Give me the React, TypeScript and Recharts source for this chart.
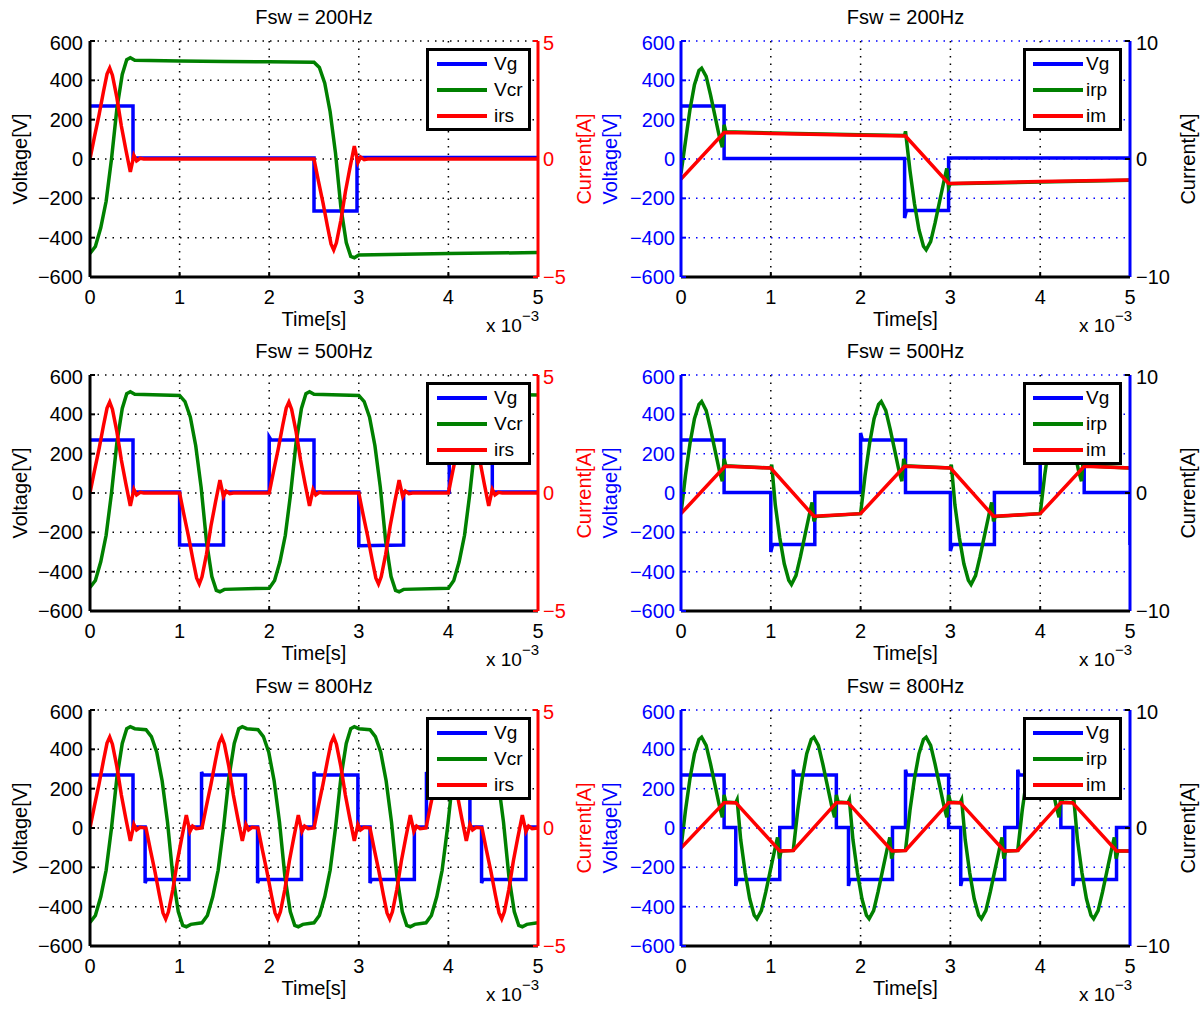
import React from 'react';
import { LineChart, Line, XAxis, YAxis, CartesianGrid, Legend } from 'recharts';

type Pt = [number, number];

// time axis is in ms (x 10^-3 s)
const timeTicks = [0, 1, 2, 3, 4, 5];
const voltTicks = [-600, -400, -200, 0, 200, 400, 600];
const ampTicksL = [-5, 0, 5];
const ampTicksR = [-10, 0, 10];

// ---- Fsw = 200Hz ----
const vg200L: Pt[] = [[0, 270], [0.48, 270], [0.48, 5], [2.5, 5], [2.5, -265], [2.98, -265], [2.98, 8], [5, 8]];
const vcr200: Pt[] = [
  [0, -480], [0.06, -445], [0.12, -350], [0.18, -215], [0.24, 0], [0.3, 255], [0.36, 430], [0.41, 505], [0.45, 515], [0.5, 502],
  [1, 498], [1.5, 496], [2, 494], [2.5, 492], [2.56, 465], [2.62, 385], [2.68, 240], [2.74, 30], [2.8, -245], [2.86, -425],
  [2.91, -495], [2.95, -502], [3, -488], [4, -480], [5, -476],
];
const irs200: Pt[] = [
  [0, 0], [0.05, 0.95], [0.1, 1.85], [0.15, 2.85], [0.19, 3.6], [0.22, 3.85], [0.25, 3.55], [0.3, 2.6], [0.35, 1.4], [0.4, 0.4],
  [0.45, -0.55], [0.47, -0.2], [0.49, 0.15], [0.52, -0.08], [0.56, 0.03], [0.6, 0], [2.5, 0],
  [2.55, -0.95], [2.6, -1.85], [2.65, -2.85], [2.69, -3.6], [2.72, -3.85], [2.75, -3.55], [2.8, -2.6], [2.85, -1.4], [2.9, -0.4],
  [2.95, 0.55], [2.97, 0.2], [2.99, -0.15], [3.02, 0.08], [3.06, -0.03], [3.1, 0], [5, 0],
];
const vg200R: Pt[] = [[0, 270], [0.48, 270], [0.48, 3], [2.49, 3], [2.49, -300], [2.51, -262], [2.98, -262], [2.98, 5], [5, 5]];
const irp200: Pt[] = [
  [0, -1.2], [0.05, 1.5], [0.1, 4.2], [0.15, 6.3], [0.2, 7.5], [0.23, 7.7], [0.28, 7.0], [0.33, 5.4], [0.38, 3.6], [0.43, 1.8],
  [0.46, 1.0], [0.48, 2.9], [0.5, 2.3], [1, 2.2], [2, 2.05], [2.49, 2.0], [2.5, 2.35], [2.55, -1.0], [2.6, -3.8], [2.65, -6.0],
  [2.7, -7.4], [2.73, -7.7], [2.78, -7.0], [2.83, -5.4], [2.88, -3.6], [2.93, -1.8], [2.96, -0.8], [2.98, -2.4], [3, -2.1],
  [4, -1.95], [5, -1.8],
];
const im200: Pt[] = [[0, -1.7], [0.48, 2.25], [1, 2.17], [2, 2.02], [2.5, 1.95], [2.98, -2.07], [4, -1.9], [5, -1.78]];

// ---- Fsw = 500Hz ----
const vg500L: Pt[] = [
  [0, 270], [0.48, 270], [0.48, 5], [1, 5], [1, -265], [1.49, -265], [1.49, 5], [2, 5], [2, 285], [2.02, 270], [2.5, 270],
  [2.5, 5], [3, 5], [3, -268], [3.5, -265], [3.5, 5], [4.01, 5], [4.01, 280], [4.03, 270], [4.49, 270], [4.49, 5], [5, 5],
];
const vcr500: Pt[] = [
  [0, -480], [0.06, -445], [0.12, -350], [0.18, -215], [0.24, 0], [0.3, 255], [0.36, 430], [0.41, 505], [0.45, 515], [0.5, 502], [1, 496],
  [1.06, 465], [1.12, 385], [1.18, 240], [1.24, 30], [1.3, -245], [1.36, -425], [1.41, -495], [1.45, -502], [1.5, -490], [2, -484],
  [2.06, -445], [2.12, -350], [2.18, -215], [2.24, 0], [2.3, 255], [2.36, 430], [2.41, 505], [2.45, 515], [2.5, 502], [3, 496],
  [3.06, 465], [3.12, 385], [3.18, 240], [3.24, 30], [3.3, -245], [3.36, -425], [3.41, -495], [3.45, -502], [3.5, -490], [4, -484],
  [4.06, -445], [4.12, -350], [4.18, -215], [4.24, 0], [4.3, 255], [4.36, 430], [4.41, 505], [4.45, 515], [4.5, 502], [5, 498],
];
const irs500: Pt[] = [
  [0, 0], [0.05, 0.95], [0.1, 1.85], [0.15, 2.85], [0.19, 3.6], [0.22, 3.85], [0.25, 3.55], [0.3, 2.6], [0.35, 1.4], [0.4, 0.4],
  [0.45, -0.55], [0.47, -0.2], [0.49, 0.15], [0.52, -0.08], [0.56, 0.03], [0.6, 0], [1, 0],
  [1.05, -0.95], [1.1, -1.85], [1.15, -2.85], [1.19, -3.6], [1.22, -3.85], [1.25, -3.55], [1.3, -2.6], [1.35, -1.4], [1.4, -0.4],
  [1.45, 0.55], [1.47, 0.2], [1.49, -0.15], [1.52, 0.08], [1.56, -0.03], [1.6, 0], [2, 0],
  [2.05, 0.95], [2.1, 1.85], [2.15, 2.85], [2.19, 3.6], [2.22, 3.85], [2.25, 3.55], [2.3, 2.6], [2.35, 1.4], [2.4, 0.4],
  [2.45, -0.55], [2.47, -0.2], [2.49, 0.15], [2.52, -0.08], [2.56, 0.03], [2.6, 0], [3, 0],
  [3.05, -0.95], [3.1, -1.85], [3.15, -2.85], [3.19, -3.6], [3.22, -3.85], [3.25, -3.55], [3.3, -2.6], [3.35, -1.4], [3.4, -0.4],
  [3.45, 0.55], [3.47, 0.2], [3.49, -0.15], [3.52, 0.08], [3.56, -0.03], [3.6, 0], [4, 0],
  [4.05, 0.95], [4.1, 1.85], [4.15, 2.85], [4.19, 3.6], [4.22, 3.85], [4.25, 3.55], [4.3, 2.6], [4.35, 1.4], [4.4, 0.4],
  [4.45, -0.55], [4.47, -0.2], [4.49, 0.15], [4.52, -0.08], [4.56, 0.03], [4.6, 0], [5, 0],
];
const vg500R: Pt[] = [
  [0, 270], [0.48, 270], [0.48, 3], [1, 3], [1, -300], [1.02, -262], [1.49, -262], [1.49, 3], [2, 3], [2, 305], [2.02, 270],
  [2.5, 270], [2.5, 3], [3, 3], [3, -295], [3.02, -262], [3.49, -262], [3.49, 3], [4, 3], [4, 300], [4.02, 270], [4.49, 270],
  [4.49, 3], [5, 3], [5, -265],
];
const irp500: Pt[] = [
  [0, -1.75], [0.05, 1.5], [0.1, 4.2], [0.15, 6.3], [0.2, 7.5], [0.23, 7.75], [0.28, 7.0], [0.33, 5.4], [0.38, 3.6], [0.43, 1.8],
  [0.46, 1.0], [0.48, 2.9], [0.5, 2.3], [1, 2.12],
  [1.01, 2.4], [1.05, -1.0], [1.1, -3.8], [1.15, -6.0], [1.2, -7.4], [1.23, -7.75], [1.28, -7.0], [1.33, -5.4], [1.38, -3.6],
  [1.43, -1.8], [1.46, -0.8], [1.48, -2.4], [1.5, -2.0], [2, -1.75],
  [2.05, 1.5], [2.1, 4.2], [2.15, 6.3], [2.2, 7.5], [2.23, 7.75], [2.28, 7.0], [2.33, 5.4], [2.38, 3.6], [2.43, 1.8],
  [2.46, 1.0], [2.48, 2.9], [2.5, 2.3], [3, 2.12],
  [3.01, 2.4], [3.05, -1.0], [3.1, -3.8], [3.15, -6.0], [3.2, -7.4], [3.23, -7.75], [3.28, -7.0], [3.33, -5.4], [3.38, -3.6],
  [3.43, -1.8], [3.46, -0.8], [3.48, -2.4], [3.5, -2.0], [4, -1.75],
  [4.05, 1.5], [4.1, 4.2], [4.15, 6.3], [4.2, 7.5], [4.23, 7.75], [4.28, 7.0], [4.33, 5.4], [4.38, 3.6], [4.43, 1.8],
  [4.46, 1.0], [4.48, 2.9], [4.5, 2.3], [5, 2.12],
];
const im500: Pt[] = [
  [0, -1.75], [0.49, 2.27], [1, 2.12], [1.48, -1.97], [2, -1.75], [2.49, 2.27], [3, 2.12], [3.48, -1.97], [4, -1.75],
  [4.49, 2.27], [5, 2.12],
];

// ---- Fsw = 800Hz ----
const vg800L: Pt[] = [
  [0, 270], [0.48, 270], [0.48, 5], [0.615, 5], [0.615, -280], [0.63, -262], [1.105, -262], [1.105, 5], [1.245, 5], [1.245, 285],
  [1.26, 270], [1.735, 270], [1.735, 5], [1.87, 5], [1.87, -280], [1.885, -262], [2.36, -262], [2.36, 5], [2.5, 5], [2.5, 285],
  [2.515, 270], [2.99, 270], [2.99, 5], [3.125, 5], [3.125, -280], [3.14, -262], [3.62, -262], [3.62, 5], [3.755, 5], [3.755, 285],
  [3.77, 270], [4.24, 270], [4.24, 5], [4.37, 5], [4.37, -280], [4.385, -262], [4.865, -262], [4.865, 5], [5, 5],
];
const vcr800: Pt[] = [
  [0, -480], [0.06, -445], [0.12, -350], [0.18, -215], [0.24, 0], [0.3, 255], [0.36, 430], [0.41, 505], [0.45, 515], [0.5, 505], [0.625, 500],
  [0.685, 465], [0.745, 385], [0.805, 240], [0.865, 30], [0.925, -245], [0.985, -425], [1.035, -495], [1.075, -502], [1.125, -490], [1.25, -482],
  [1.31, -445], [1.37, -350], [1.43, -215], [1.49, 0], [1.55, 255], [1.61, 430], [1.66, 505], [1.7, 515], [1.75, 505], [1.875, 500],
  [1.935, 465], [1.995, 385], [2.055, 240], [2.115, 30], [2.175, -245], [2.235, -425], [2.285, -495], [2.325, -502], [2.375, -490], [2.5, -482],
  [2.56, -445], [2.62, -350], [2.68, -215], [2.74, 0], [2.8, 255], [2.86, 430], [2.91, 505], [2.95, 515], [3.0, 505], [3.125, 500],
  [3.185, 465], [3.245, 385], [3.305, 240], [3.365, 30], [3.425, -245], [3.485, -425], [3.535, -495], [3.575, -502], [3.625, -490], [3.75, -482],
  [3.81, -445], [3.87, -350], [3.93, -215], [3.99, 0], [4.05, 255], [4.11, 430], [4.16, 505], [4.2, 515], [4.25, 505], [4.375, 500],
  [4.435, 465], [4.495, 385], [4.555, 240], [4.615, 30], [4.675, -245], [4.735, -425], [4.785, -495], [4.825, -502], [4.875, -490], [5, -482],
];
const irs800: Pt[] = [
  [0, 0], [0.05, 0.95], [0.1, 1.85], [0.15, 2.85], [0.19, 3.6], [0.22, 3.85], [0.25, 3.55], [0.3, 2.6], [0.35, 1.4], [0.4, 0.4],
  [0.45, -0.55], [0.47, -0.2], [0.49, 0.15], [0.52, -0.08], [0.56, 0.03], [0.625, 0],
  [0.675, -0.95], [0.725, -1.85], [0.775, -2.85], [0.815, -3.6], [0.845, -3.85], [0.875, -3.55], [0.925, -2.6], [0.975, -1.4],
  [1.025, -0.4], [1.075, 0.55], [1.095, 0.2], [1.115, -0.15], [1.145, 0.08], [1.185, -0.03], [1.25, 0],
  [1.3, 0.95], [1.35, 1.85], [1.4, 2.85], [1.44, 3.6], [1.47, 3.85], [1.5, 3.55], [1.55, 2.6], [1.6, 1.4], [1.65, 0.4],
  [1.7, -0.55], [1.72, -0.2], [1.74, 0.15], [1.77, -0.08], [1.81, 0.03], [1.875, 0],
  [1.925, -0.95], [1.975, -1.85], [2.025, -2.85], [2.065, -3.6], [2.095, -3.85], [2.125, -3.55], [2.175, -2.6], [2.225, -1.4],
  [2.275, -0.4], [2.325, 0.55], [2.345, 0.2], [2.365, -0.15], [2.395, 0.08], [2.435, -0.03], [2.5, 0],
  [2.55, 0.95], [2.6, 1.85], [2.65, 2.85], [2.69, 3.6], [2.72, 3.85], [2.75, 3.55], [2.8, 2.6], [2.85, 1.4], [2.9, 0.4],
  [2.95, -0.55], [2.97, -0.2], [2.99, 0.15], [3.02, -0.08], [3.06, 0.03], [3.125, 0],
  [3.175, -0.95], [3.225, -1.85], [3.275, -2.85], [3.315, -3.6], [3.345, -3.85], [3.375, -3.55], [3.425, -2.6], [3.475, -1.4],
  [3.525, -0.4], [3.575, 0.55], [3.595, 0.2], [3.615, -0.15], [3.645, 0.08], [3.685, -0.03], [3.75, 0],
  [3.8, 0.95], [3.85, 1.85], [3.9, 2.85], [3.94, 3.6], [3.97, 3.85], [4.0, 3.55], [4.05, 2.6], [4.1, 1.4], [4.15, 0.4],
  [4.2, -0.55], [4.22, -0.2], [4.24, 0.15], [4.27, -0.08], [4.31, 0.03], [4.375, 0],
  [4.425, -0.95], [4.475, -1.85], [4.525, -2.85], [4.565, -3.6], [4.595, -3.85], [4.625, -3.55], [4.675, -2.6], [4.725, -1.4],
  [4.775, -0.4], [4.825, 0.55], [4.845, 0.2], [4.865, -0.15], [4.895, 0.08], [4.935, -0.03], [5, 0],
];
const vg800R: Pt[] = [
  [0, 270], [0.48, 270], [0.48, 3], [0.61, 3], [0.61, -295], [0.625, -262], [1.1, -262], [1.1, 3], [1.25, 3], [1.25, 296],
  [1.265, 270], [1.73, 270], [1.73, 3], [1.865, 3], [1.865, -295], [1.88, -262], [2.355, -262], [2.355, 3], [2.5, 3], [2.5, 296],
  [2.515, 270], [2.98, 270], [2.98, 3], [3.115, 3], [3.115, -295], [3.13, -262], [3.605, -262], [3.605, 3], [3.75, 3], [3.75, 296],
  [3.765, 270], [4.23, 270], [4.23, 3], [4.365, 3], [4.365, -295], [4.38, -262], [4.85, -262], [4.85, 3], [5, 3],
];
const irp800: Pt[] = [
  [0, -1.7], [0.05, 1.5], [0.1, 4.2], [0.15, 6.3], [0.2, 7.5], [0.23, 7.7], [0.28, 7.0], [0.33, 5.4], [0.38, 3.6], [0.43, 1.8],
  [0.46, 0.9], [0.48, 2.8], [0.5, 2.2], [0.61, 2.15],
  [0.625, 2.4], [0.665, -1.0], [0.715, -3.8], [0.765, -6.0], [0.815, -7.4], [0.845, -7.7], [0.895, -7.0], [0.945, -5.4],
  [0.995, -3.6], [1.045, -1.8], [1.075, -0.8], [1.095, -2.6], [1.115, -1.95], [1.25, -1.9],
  [1.3, 1.5], [1.35, 4.2], [1.4, 6.3], [1.45, 7.5], [1.48, 7.7], [1.53, 7.0], [1.58, 5.4], [1.63, 3.6], [1.68, 1.8],
  [1.71, 0.9], [1.73, 2.8], [1.75, 2.2], [1.86, 2.15],
  [1.875, 2.4], [1.915, -1.0], [1.965, -3.8], [2.015, -6.0], [2.065, -7.4], [2.095, -7.7], [2.145, -7.0], [2.195, -5.4],
  [2.245, -3.6], [2.295, -1.8], [2.325, -0.8], [2.345, -2.6], [2.365, -1.95], [2.5, -1.9],
  [2.55, 1.5], [2.6, 4.2], [2.65, 6.3], [2.7, 7.5], [2.73, 7.7], [2.78, 7.0], [2.83, 5.4], [2.88, 3.6], [2.93, 1.8],
  [2.96, 0.9], [2.98, 2.8], [3.0, 2.2], [3.11, 2.15],
  [3.125, 2.4], [3.165, -1.0], [3.215, -3.8], [3.265, -6.0], [3.315, -7.4], [3.345, -7.7], [3.395, -7.0], [3.445, -5.4],
  [3.495, -3.6], [3.545, -1.8], [3.575, -0.8], [3.595, -2.6], [3.615, -1.95], [3.75, -1.9],
  [3.8, 1.5], [3.85, 4.2], [3.9, 6.3], [3.95, 7.5], [3.98, 7.7], [4.03, 7.0], [4.08, 5.4], [4.13, 3.6], [4.18, 1.8],
  [4.21, 0.9], [4.23, 2.8], [4.25, 2.2], [4.36, 2.15],
  [4.375, 2.4], [4.415, -1.0], [4.465, -3.8], [4.515, -6.0], [4.565, -7.4], [4.595, -7.7], [4.645, -7.0], [4.695, -5.4],
  [4.745, -3.6], [4.795, -1.8], [4.825, -0.8], [4.845, -2.6], [4.865, -1.95], [5, -1.95],
];
const im800: Pt[] = [
  [0, -1.7], [0.48, 2.15], [0.61, 2.15], [1.1, -1.95], [1.25, -1.9], [1.73, 2.15], [1.86, 2.15], [2.35, -1.95], [2.5, -1.9],
  [2.98, 2.15], [3.11, 2.15], [3.6, -1.95], [3.75, -1.9], [4.23, 2.15], [4.36, 2.15], [4.85, -1.95], [5, -1.95],
];

const BLUE = '#0000ff';
const GREEN = '#008000';
const RED = '#ff0000';
const BLACK = '#000000';
const FONT = '"Liberation Sans", Arial, Helvetica, sans-serif';
const PLOT_H = 236;
const CHART_H = 306;

type Side = 'left' | 'right';
interface Series { name: string; color: string; axis: 'v' | 'i'; data: Pt[] }

const SIDES = {
  left: {
    chartLeft: 0, chartWidth: 600, leftW: 90, rightW: 62,
    vText: BLACK, vLine: BLACK, vTickMargin: 12, iText: RED, iLine: RED, iTickMargin: 10,
    hGrid: BLACK, boxTick: BLACK, iTicks: ampTicksL, iMax: 5,
    vTitleX: 20, iTitleX: 584, legendLeft: 426, legendWidth: 105, legendPad: 8, legendGap: 7, expRight: 539,
  },
  right: {
    chartLeft: 590, chartWidth: 613, leftW: 91, rightW: 73,
    vText: BLUE, vLine: BLUE, vTickMargin: 11, iText: BLACK, iLine: BLUE, iTickMargin: 11,
    hGrid: BLUE, boxTick: BLUE, iTicks: ampTicksR, iMax: 10,
    vTitleX: 20, iTitleX: 598, legendLeft: 433, legendWidth: 99, legendPad: 7, legendGap: 3, expRight: 542,
  },
};

const toRows = (pts: Pt[]) => pts.map(([t, v]) => ({ t, v }));
// MATLAB prints a real minus sign
const fmtTick = (v: number) => (v < 0 ? `\u2212${Math.abs(v)}` : `${v}`);

const LegendBox = ({ payload, boxWidth, pad, gap, order }: any) => {
  const items = [...(payload || [])].sort((a: any, b: any) => order.indexOf(a.value) - order.indexOf(b.value));
  return (
    <div style={{ width: boxWidth, height: 83, boxSizing: 'border-box', border: '3px solid #000', background: '#fff', fontFamily: FONT }}>
      {items.map((p: any) => (
        <div key={p.value} style={{ display: 'flex', alignItems: 'center', height: 26 }}>
          <div style={{ width: 50, height: 3.5, background: p.color, marginLeft: pad }} />
          <span style={{ marginLeft: gap, fontSize: 19, color: '#000', lineHeight: '26px' }}>{p.value}</span>
        </div>
      ))}
    </div>
  );
};

const RotTitle = ({ x, y, text, color }: { x: number; y: number; text: string; color: string }) => (
  <div style={{ position: 'absolute', left: x, top: y, transform: 'translate(-50%, -50%) rotate(-90deg)', whiteSpace: 'nowrap', fontSize: 20, lineHeight: '22px', color }}>
    {text}
  </div>
);

const Panel = ({ title, top, side, series }: { title: string; top: number; side: Side; series: Series[] }) => {
  const s = SIDES[side];
  const plotLeft = s.leftW;
  const plotRight = s.chartWidth - s.rightW;
  const plotMid = (plotLeft + plotRight) / 2;
  const midY = 10 + PLOT_H / 2;
  const order = series.map((sr) => sr.name);
  return (
    <div style={{ position: 'absolute', left: s.chartLeft, top: top - 10, width: s.chartWidth, height: CHART_H }}>
      <LineChart width={s.chartWidth} height={CHART_H} margin={{ top: 10, right: 0, bottom: 0, left: 0 }}>
        <CartesianGrid xAxisId="b" yAxisId="v" horizontal={false} stroke={BLACK} strokeDasharray="1.5 6" strokeWidth={1.5} />
        <CartesianGrid xAxisId="b" yAxisId="v" vertical={false} stroke={s.hGrid} strokeDasharray="1.5 6" strokeWidth={1.5} />
        <XAxis
          xAxisId="b" dataKey="t" type="number" domain={[0, 5]} ticks={timeTicks} allowDataOverflow height={60}
          stroke={BLACK} axisLine={{ stroke: BLACK, strokeWidth: 3 }} tickLine={{ stroke: BLACK, strokeWidth: 2 }}
          tickSize={-5} tickMargin={18} tick={{ fill: BLACK, fontSize: 20 }}
        />
        <XAxis
          xAxisId="top" orientation="top" dataKey="t" type="number" domain={[0, 5]} ticks={timeTicks} allowDataOverflow height={0}
          axisLine={{ stroke: BLACK, strokeWidth: 3 }} tickLine={{ stroke: BLACK, strokeWidth: 2 }} tickSize={-5}
          tickFormatter={() => ''}
        />
        <YAxis
          yAxisId="v" type="number" domain={[-600, 600]} ticks={voltTicks} allowDataOverflow width={s.leftW}
          axisLine={{ stroke: s.vLine, strokeWidth: 3 }} tickLine={{ stroke: s.vLine, strokeWidth: 2 }}
          tickSize={-5} tickMargin={s.vTickMargin} tick={{ fill: s.vText, fontSize: 20 }} tickFormatter={fmtTick}
        />
        <YAxis
          yAxisId="i" orientation="right" type="number" domain={[-s.iMax, s.iMax]} ticks={s.iTicks} allowDataOverflow width={s.rightW}
          axisLine={{ stroke: s.iLine, strokeWidth: 3 }} tickLine={{ stroke: side === 'left' ? RED : BLACK, strokeWidth: 2 }}
          tickSize={-5} tickMargin={s.iTickMargin} tick={{ fill: s.iText, fontSize: 20, textAnchor: 'start' }} tickFormatter={fmtTick}
        />
        <YAxis
          yAxisId="vr" orientation="right" mirror type="number" domain={[-600, 600]} ticks={voltTicks} allowDataOverflow width={0}
          axisLine={false} tickLine={{ stroke: s.boxTick, strokeWidth: 2 }} tickSize={5} tickFormatter={() => ''}
        />
        {series.map((sr) => (
          <Line
            key={sr.name} xAxisId="b" yAxisId={sr.axis} data={toRows(sr.data)} dataKey="v" name={sr.name}
            type="linear" stroke={sr.color} strokeWidth={3.5} dot={false} activeDot={false} isAnimationActive={false}
          />
        ))}
        <Legend
          layout="vertical" align="center" verticalAlign="middle"
          wrapperStyle={{ left: s.legendLeft, top: 17, width: s.legendWidth }}
          content={<LegendBox boxWidth={s.legendWidth} pad={s.legendPad} gap={s.legendGap} order={order} />}
        />
      </LineChart>
      <div style={{ position: 'absolute', left: plotLeft, width: plotRight - plotLeft, top: -26, height: 25, lineHeight: '25px', textAlign: 'center', fontSize: 20, color: BLACK }}>
        {title}
      </div>
      <div style={{ position: 'absolute', left: plotMid - 60, width: 120, top: 277, height: 22, lineHeight: '22px', textAlign: 'center', fontSize: 20, color: BLACK }}>
        Time[s]
      </div>
      <div style={{ position: 'absolute', left: s.expRight - 90, width: 90, top: 285, height: 19, lineHeight: '19px', textAlign: 'right', fontSize: 19, color: BLACK, whiteSpace: 'nowrap' }}>
        x 10<span style={{ position: 'relative', top: -11, fontSize: 15 }}>−3</span>
      </div>
      <RotTitle x={s.vTitleX} y={midY} text="Voltage[V]" color={side === 'left' ? BLACK : BLUE} />
      <RotTitle x={s.iTitleX} y={midY} text="Current[A]" color={side === 'left' ? RED : BLACK} />
    </div>
  );
};

const leftPanels = [
  { title: 'Fsw = 200Hz', top: 41, vg: vg200L, vcr: vcr200, irs: irs200 },
  { title: 'Fsw = 500Hz', top: 375, vg: vg500L, vcr: vcr500, irs: irs500 },
  { title: 'Fsw = 800Hz', top: 710, vg: vg800L, vcr: vcr800, irs: irs800 },
];
const rightPanels = [
  { title: 'Fsw = 200Hz', top: 41, vg: vg200R, irp: irp200, im: im200 },
  { title: 'Fsw = 500Hz', top: 375, vg: vg500R, irp: irp500, im: im500 },
  { title: 'Fsw = 800Hz', top: 710, vg: vg800R, irp: irp800, im: im800 },
];

export default function App() {
  return (
    <div style={{ position: 'absolute', left: 0, top: 0, width: 1203, height: 1011, background: '#fff', fontFamily: FONT, overflow: 'hidden' }}>
      {leftPanels.map((p) => (
        <Panel
          key={'L' + p.title} title={p.title} top={p.top} side="left"
          series={[
            { name: 'Vg', color: BLUE, axis: 'v', data: p.vg },
            { name: 'Vcr', color: GREEN, axis: 'v', data: p.vcr },
            { name: 'irs', color: RED, axis: 'i', data: p.irs },
          ]}
        />
      ))}
      {rightPanels.map((p) => (
        <Panel
          key={'R' + p.title} title={p.title} top={p.top} side="right"
          series={[
            { name: 'Vg', color: BLUE, axis: 'v', data: p.vg },
            { name: 'irp', color: GREEN, axis: 'i', data: p.irp },
            { name: 'im', color: RED, axis: 'i', data: p.im },
          ]}
        />
      ))}
    </div>
  );
}
